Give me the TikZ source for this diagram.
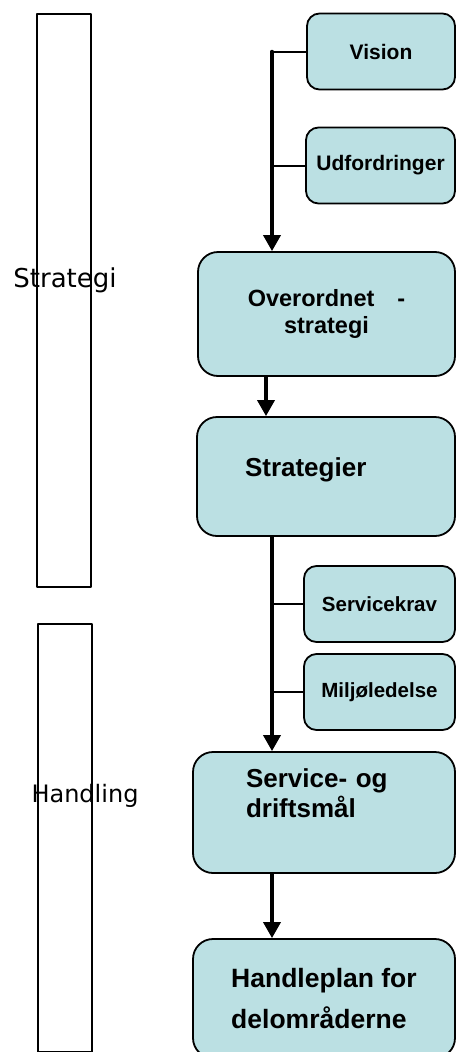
\documentclass[tikz,border=0pt]{standalone}
\usepackage{fontspec}
\setmainfont{Liberation Sans}
\newfontfamily\phasefont{DejaVu Sans}
\usetikzlibrary{arrows.meta}
\definecolor{boxblue}{HTML}{BBE0E3}

\begin{document}
\begin{tikzpicture}[x=1pt, y=-1pt, line cap=round, line join=round,
		phase/.style={draw, line width=1.6pt, minimum width=54pt, inner sep=0pt},
		phasetext/.style={anchor=base, inner sep=0pt},
		smallbox/.style={draw, line width=1.8pt, fill=boxblue, rounded corners=12.5pt, minimum height=76pt, inner sep=0pt, align=center, font=\bfseries\fontsize{21}{24}\selectfont},
		bigbox/.style={draw, line width=1.8pt, fill=boxblue, rounded corners=20pt, inner sep=0pt},
		flow/.style={line width=3.5pt, -{Triangle[width=17pt,length=16pt]}},
		stub/.style={line width=2pt}]
			\useasboundingbox (0,0) rectangle (456,1052);
			
			% phases
			\node[phase, minimum height=573pt] (strategi) at (64,300.5) {};
			\node[phase, minimum height=428pt] (handling) at (65,838) {};
			\node[phasetext, font=\phasefont\fontsize{26}{30}\selectfont] (strategitxt) at (65,287) {Strategi};
			\node[phasetext, font=\phasefont\fontsize{24}{28}\selectfont] (handlingtxt) at (85,802.5) {Handling};
			
			% boxes
			\node[smallbox, minimum width=148pt] (vision) at (381,51.5) {Vision};
			\node[smallbox, minimum width=149pt] (udf) at (380.5,165.5) {Udfordringer};
			\node[bigbox, minimum width=257pt, minimum height=124pt, align=center, font=\bfseries\fontsize{23.5}{26.7}\selectfont] (ovr) at (326.5,314) {Overordnet\hspace{23pt}-\\strategi};
			\node[bigbox, text width=162pt, inner xsep=48pt, minimum height=119pt, text depth=18pt, align=left, font=\bfseries\fontsize{26}{30}\selectfont] (strat) at (326,476.5) {Strategier};
			\node[smallbox, minimum width=151pt, font=\bfseries\fontsize{20.5}{24}\selectfont] (skrav) at (379.5,604) {Servicekrav};
			\node[smallbox, minimum width=151pt, font=\bfseries\fontsize{20.5}{24}\selectfont] (milj) at (379.5,692) {Miljøledelse};
			\node[bigbox, text width=156pt, inner xsep=53pt, minimum height=121pt, align=left, font=\bfseries\fontsize{26}{30}\selectfont] (smaal) at (324,812.5) {Service- og\\driftsmål\\[8pt]\mbox{}};
			\node[bigbox, minimum width=262pt, minimum height=119pt, align=left, font=\bfseries\fontsize{26.5}{41.3}\selectfont] (hplan) at (324,998.5) {Handleplan for\\delområderne};
			
			% connectors
			\coordinate (s1) at (272,0);
			\coordinate (s2) at (266,0);
			\draw[stub] (vision.west) -- (vision.west -| s1);
			\draw[stub] (udf.west) -- (udf.west -| s1);
			\draw[flow] (vision.west -| s1) -- (ovr.north -| s1);
			\draw[flow] (ovr.south -| s2) -- (strat.north -| s2);
			\draw[stub] (skrav.west) -- (skrav.west -| s1);
			\draw[stub] (milj.west) -- (milj.west -| s1);
			\draw[flow] (strat.south -| s1) -- (smaal.north -| s1);
			\draw[flow] (smaal.south -| s1) -- (hplan.north -| s1);
		\end{tikzpicture}
\end{document}
